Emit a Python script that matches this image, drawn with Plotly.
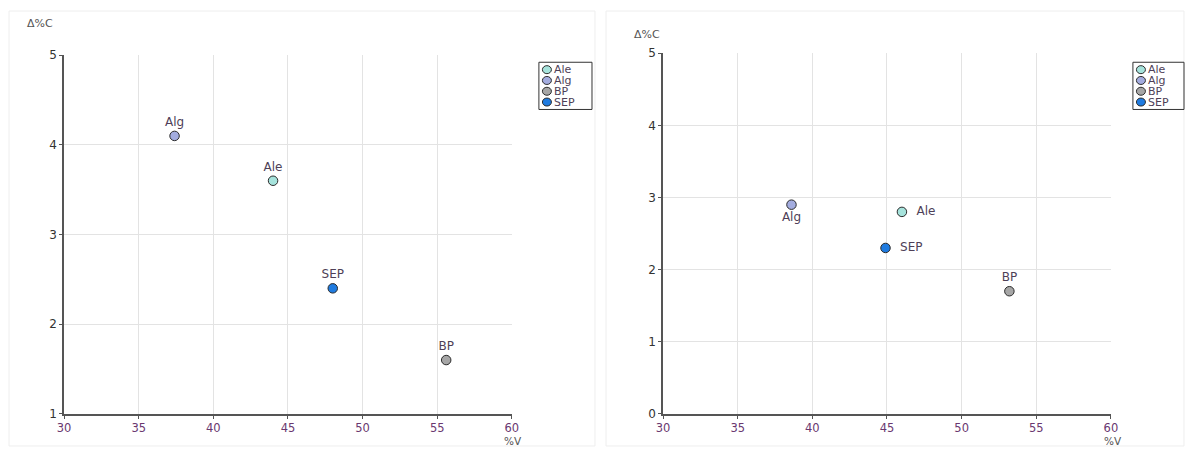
import plotly.graph_objects as go

W, H = 1192, 454
# The photographed page appears inset by 8px and scaled; positions below are
# given in the reference picture's pixels and converted to page fractions.
PAD = 8
SX = (W - 2 * PAD) / W
SY = (H - 2 * PAD) / H

names = ["Ale", "Alg", "BP", "SEP"]
colors = ["#a6e3dc", "#a3acdf", "#a6a6a6", "#1f7be0"]

# Left panel
left_x = [44.0, 37.4, 55.6, 48.0]
left_y = [3.6, 4.1, 1.6, 2.4]
left_pos = ["top center", "top center", "top center", "top center"]

# Right panel
right_x = [46.0, 38.6, 53.2, 44.9]
right_y = [2.8, 2.9, 1.7, 2.3]
right_pos = ["middle right", "bottom center", "top center", "middle right"]

x_ticks = [30, 35, 40, 45, 50, 55, 60]
left_y_ticks = [1, 2, 3, 4, 5]
right_y_ticks = [0, 1, 2, 3, 4, 5]

FONT = "DejaVu Sans"
LABEL_COLOR = "#4e3f57"

fig = go.Figure()

for i, n in enumerate(names):
    fig.add_trace(go.Scatter(
        x=[left_x[i]], y=[left_y[i]], mode="markers+text", text=[n],
        textposition=left_pos[i], name=n, showlegend=False,
        textfont=dict(family=FONT, size=12, color=LABEL_COLOR),
        marker=dict(size=9.5, color=colors[i], line=dict(color="#2b2b2b", width=1)),
        xaxis="x", yaxis="y"))
    fig.add_trace(go.Scatter(
        x=[right_x[i]], y=[right_y[i]], mode="markers+text",
        text=[("  " + n + "  ") if "right" in right_pos[i] else n],
        textposition=right_pos[i], name=n, showlegend=False,
        textfont=dict(family=FONT, size=12, color=LABEL_COLOR),
        marker=dict(size=9.5, color=colors[i], line=dict(color="#2b2b2b", width=1)),
        xaxis="x2", yaxis="y2"))

def px(r):
    return ((r - PAD) / SX) / W

def py(r):
    return 1 - ((r - PAD) / SY) / H

axis_common = dict(
    showgrid=True, gridcolor="#e3e3e3", gridwidth=1,
    showline=True, linecolor="#555555", linewidth=1.5,
    ticks="outside", ticklen=3, tickcolor="#555555",
    zeroline=False, fixedrange=True,
)

fig.update_layout(
    width=W, height=H,
    margin=dict(l=0, r=0, t=0, b=0),
    paper_bgcolor="white", plot_bgcolor="white",
    font=dict(family=FONT, size=12, color="#333333"),
    xaxis=dict(domain=[px(65), px(512)], range=[30, 60], tickvals=x_ticks,
               tickfont=dict(color="#6a3870", size=11.5), anchor="y", **axis_common),
    yaxis=dict(domain=[py(413), py(56)], range=[1, 5], tickvals=left_y_ticks,
               tickfont=dict(color="#333333", size=12), anchor="x", **axis_common),
    xaxis2=dict(domain=[px(663), px(1110)], range=[30, 60], tickvals=x_ticks,
                tickfont=dict(color="#6a3870", size=11.5), anchor="y2", **axis_common),
    yaxis2=dict(domain=[py(413), py(54)], range=[0, 5], tickvals=right_y_ticks,
                tickfont=dict(color="#333333", size=12), anchor="x2", **axis_common),
    showlegend=False,
)

shapes = []
annotations = []

# faint panel frames
for (x0, x1) in [(10, 595), (606, 1183)]:
    shapes.append(dict(type="rect", xref="paper", yref="paper",
                       x0=px(x0), x1=px(x1), y0=py(445), y1=py(12),
                       line=dict(color="#eeeeee", width=1), layer="below"))

# axis titles
for (tx, ty) in [(41, 24), (647, 35)]:
    annotations.append(dict(text="Δ%C", xref="paper", yref="paper", x=px(tx), y=py(ty),
                            xanchor="center", yanchor="middle", showarrow=False,
                            font=dict(family=FONT, size=11, color="#555555")))
for (tx, ty) in [(513, 440), (1112, 440)]:
    annotations.append(dict(text="%V", xref="paper", yref="paper", x=px(tx), y=py(ty),
                            xanchor="center", yanchor="middle", showarrow=False,
                            font=dict(family=FONT, size=10.5, color="#555555")))

# legends (boxes with swatches)
for (lx0, ly0, lx1, ly1) in [(539, 63, 592, 110), (1132, 63, 1183, 110)]:
    shapes.append(dict(type="rect", xref="paper", yref="paper",
                       x0=px(lx0), x1=px(lx1), y0=py(ly1), y1=py(ly0),
                       line=dict(color="#333333", width=1), fillcolor="white"))
    step = (ly1 - ly0 - 4) / len(names)
    for i, n in enumerate(names):
        cy = ly0 + 2 + step * (i + 0.5)
        cx = lx0 + 8
        shapes.append(dict(type="circle", xref="paper", yref="paper",
                           xsizemode="pixel", ysizemode="pixel",
                           xanchor=px(cx), yanchor=py(cy),
                           x0=-4.5, x1=4.5, y0=-4, y1=4,
                           fillcolor=colors[i], line=dict(color="#2b2b2b", width=1)))
        annotations.append(dict(text=n, xref="paper", yref="paper",
                                x=px(cx + 5), y=py(cy), xanchor="left", yanchor="middle",
                                showarrow=False,
                                font=dict(family=FONT, size=11, color=LABEL_COLOR)))

fig.update_layout(shapes=shapes, annotations=annotations)

fig.write_html(
    "out.html",
    config={"displayModeBar": False},
    post_script="document.body.style.margin='0';document.body.style.padding='0';"
                "document.body.style.overflow='hidden';"
                "document.documentElement.style.overflow='hidden';",
)
